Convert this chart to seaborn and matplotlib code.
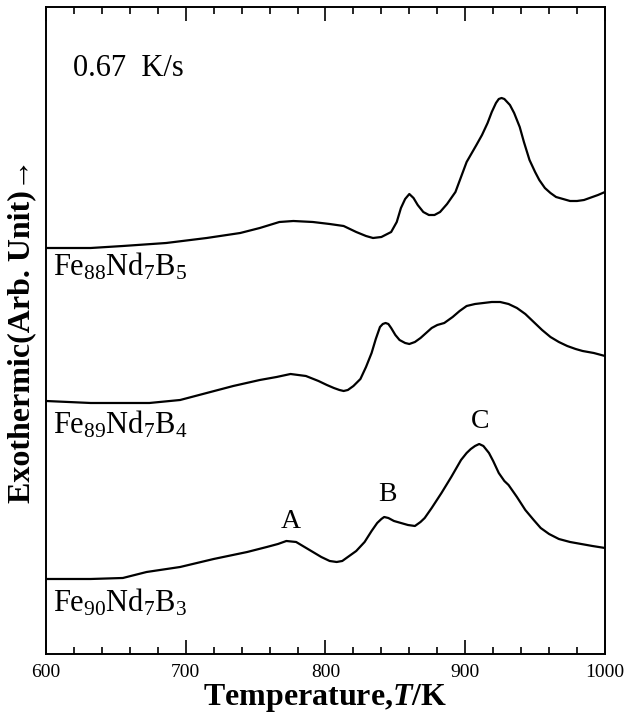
import matplotlib
matplotlib.use("Agg")
import matplotlib.pyplot as plt
import pandas as pd
import seaborn as sns
from matplotlib.ticker import MultipleLocator, NullLocator

# DSC traces (temperature in K, signal in arbitrary units)
temp_b5 = [600, 632, 655, 686, 715, 739, 753, 767, 777, 791, 803, 813, 822, 829, 834,
           840, 847, 851, 854, 857, 860, 863, 866, 870, 874, 878, 882, 887, 893, 897,
           901, 908, 912, 916, 919, 922, 924, 926, 928, 932, 935, 939, 942, 946, 950,
           953, 957, 961, 965, 970, 975, 980, 985, 989, 995, 1000]
exo_b5 = [406, 406, 408, 411, 416, 421, 426, 432, 433, 432, 430, 428, 422, 418, 416,
          417, 422, 432, 446, 455, 460, 456, 449, 442, 439, 439, 442, 450, 462, 477,
          492, 509, 519, 531, 542, 551, 555, 556, 555, 549, 541, 527, 512, 494, 482,
          474, 466, 461, 457, 455, 453, 453, 454, 456, 459, 462]

temp_b4 = [600, 632, 674, 696, 715, 734, 753, 765, 775, 786, 795, 801, 806, 810, 813,
           816, 820, 825, 829, 833, 836, 839, 841, 843, 845, 847, 850, 853, 857, 860,
           864, 868, 872, 876, 880, 885, 891, 896, 901, 907, 913, 919, 925, 931, 937,
           943, 949, 955, 961, 967, 973, 979, 984, 992, 1000]
exo_b4 = [253, 251, 251, 254, 261, 268, 274, 277, 280, 278, 273, 269, 266, 264, 263,
          264, 268, 275, 287, 301, 315, 327, 330, 331, 330, 326, 319, 314, 311, 310,
          312, 316, 321, 326, 329, 331, 337, 343, 348, 350, 351, 352, 352, 350, 346,
          340, 332, 324, 317, 312, 308, 305, 303, 301, 298]

temp_b3 = [600, 632, 655, 672, 696, 720, 744, 758, 766, 772, 779, 785, 791, 797, 803,
           808, 812, 816, 822, 828, 833, 837, 840, 842, 845, 849, 854, 859, 864, 868,
           871, 876, 883, 890, 897, 901, 904, 907, 910, 913, 917, 920, 924, 928, 931,
           937, 943, 949, 954, 960, 967, 975, 983, 991, 1000]
exo_b3 = [75, 75, 76, 82, 87, 95, 102, 107, 110, 113, 112, 107, 102, 97, 93,
          92, 93, 97, 103, 112, 123, 131, 135, 137, 136, 133, 131, 129, 128, 132,
          136, 146, 161, 177, 194, 201, 205, 208, 210, 208, 201, 193, 181, 173, 169,
          157, 144, 134, 126, 120, 115, 112, 110, 108, 106]

alloy_names = [r"$\mathregular{Fe_{88}Nd_{7}B_{5}}$",
               r"$\mathregular{Fe_{89}Nd_{7}B_{4}}$",
               r"$\mathregular{Fe_{90}Nd_{7}B_{3}}$"]
name_temp = [605, 605, 605]
name_exo = [387, 229, 51]

peak_names = ["A", "B", "C"]
peak_temp = [775, 844, 911]
peak_exo = [132, 159, 232]

sns.set_style("white")
plt.rcParams["font.family"] = ["Liberation Serif", "DejaVu Serif"]
plt.rcParams["text.color"] = "black"
plt.rcParams["xtick.color"] = "black"
plt.rcParams["axes.labelcolor"] = "black"
plt.rcParams["mathtext.fontset"] = "custom"
plt.rcParams["mathtext.rm"] = "Liberation Serif"
plt.rcParams["mathtext.it"] = "Liberation Serif:italic"
plt.rcParams["mathtext.bf"] = "Liberation Serif:bold"
plt.rcParams["mathtext.bfit"] = "Liberation Serif:italic:bold"

fig = plt.figure(figsize=(6.29, 7.22), dpi=100)
ax = fig.add_axes([0.0731, 0.0942, 0.8887, 0.8961])

curves = [(temp_b5, exo_b5), (temp_b4, exo_b4), (temp_b3, exo_b3)]
for temps, exos in curves:
    df = pd.DataFrame({"T": temps, "exo": exos})
    sns.lineplot(data=df, x="T", y="exo", color="black", linewidth=1.6,
                 estimator=None, ax=ax)

for label, tx, ty in zip(alloy_names, name_temp, name_exo):
    ax.text(tx, ty, label, fontsize=22, ha="left", va="center")

for label, tx, ty in zip(peak_names, peak_temp, peak_exo):
    ax.text(tx, ty, label, fontsize=20, ha="center", va="center")

ax.text(619, 586, "0.67  K/s", fontsize=22, ha="left", va="center")

ax.set_xlim(600, 1000)
ax.set_ylim(0, 647)
ax.xaxis.set_major_locator(MultipleLocator(100))
ax.xaxis.set_minor_locator(MultipleLocator(20))
ax.yaxis.set_major_locator(NullLocator())
ax.tick_params(axis="x", which="both", direction="in", top=True, bottom=True,
               labelsize=14, pad=7, width=1.2, color="black")
ax.tick_params(axis="x", which="major", length=10)
ax.tick_params(axis="x", which="minor", length=5)
for spine in ax.spines.values():
    spine.set_color("black")
    spine.set_linewidth(1.4)

ax.set_xlabel(r"Temperature,$\mathbfit{T}$/K", fontsize=23, fontweight="bold",
              labelpad=1)
ax.set_ylabel("Exothermic(Arb. Unit)\u2192", fontsize=23, fontweight="bold")
ax.yaxis.set_label_coords(-0.018, 0.5)

fig.savefig("out.png", dpi=100)
